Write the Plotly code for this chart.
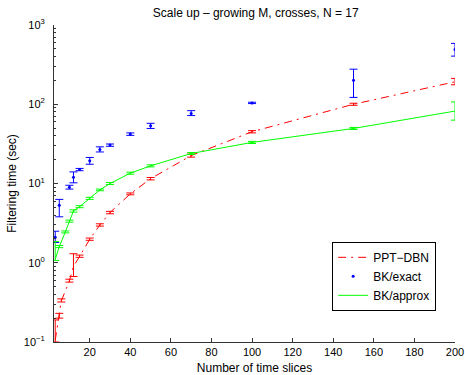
import plotly.graph_objects as go

# ---- data ----
red_x = [3, 5, 6, 10, 12, 15, 20, 25, 30, 40, 50, 70, 100, 150, 200]
red_y = [0.105, 0.21, 0.33, 0.59, 0.9, 1.2, 1.98, 3.0, 4.3, 7.4, 11.5, 22.5, 45, 100, 192]
red_hi = [0.19, 0.23, 0.35, 0.62, 1.3, 1.25, 2.05, 3.1, 4.45, 7.6, 11.9, 23.5, 46.5, 103, 212]
red_lo = [0.1, 0.2, 0.32, 0.57, 0.67, 1.17, 1.92, 2.9, 4.15, 7.2, 11.1, 21.5, 43.5, 97, 176]

blue_x = [3, 5, 10, 12, 15, 20, 25, 30, 40, 50, 70, 100, 150, 200]
blue_y = [2.1, 5.3, 9.0, 12.0, 15.0, 19.3, 26.9, 30.5, 42, 53.4, 76.5, 104, 201, 492]
blue_hi = [2.5, 6.3, 9.5, 14.0, 15.5, 21.3, 29, 31.5, 43.5, 57.5, 83, 106, 277, 586]
blue_lo = [1.8, 3.8, 8.5, 10.2, 14.5, 17.5, 25, 29.5, 40.5, 49.5, 72, 102, 122, 405]

green_x = [3, 5, 8, 10, 12, 15, 20, 25, 30, 40, 50, 70, 100, 150, 200]
green_y = [1.1, 1.6, 2.45, 3.35, 4.5, 5.1, 6.5, 8.3, 10.0, 13.5, 16.7, 23.9, 33, 49.5, 82]
green_hi = [1.85, 1.65, 2.52, 3.45, 4.65, 5.25, 6.7, 8.5, 10.3, 13.9, 17.2, 24.6, 34, 51, 107]
green_lo = [1.07, 1.55, 2.38, 3.25, 4.35, 4.95, 6.3, 8.1, 9.7, 13.1, 16.2, 23.2, 32, 48, 63]

x_ticks = [20, 40, 60, 80, 100, 120, 140, 160, 180, 200]
y_ticks = [0.1, 1, 10, 100, 1000]
y_ticktext = ["10<sup>−1</sup>", "10<sup>0</sup>", "10<sup>1</sup>", "10<sup>2</sup>", "10<sup>3</sup>"]

title_text = "Scale up – growing M, crosses, N = 17"
x_title = "Number of time slices"
y_title = "Filtering time (sec)"


def errs(y, hi, lo):
    return [h - v for v, h in zip(y, hi)], [v - l for v, l in zip(y, lo)]


fig = go.Figure()

rp, rm = errs(red_y, red_hi, red_lo)
fig.add_trace(go.Scatter(
    x=red_x, y=red_y, mode="lines", name="PPT−DBN",
    line=dict(color="#ff0000", width=1, dash="8px,5px,2px,5px"),
    error_y=dict(type="data", array=rp, arrayminus=rm, color="#ff0000", thickness=1, width=4),
))

bp, bm = errs(blue_y, blue_hi, blue_lo)
fig.add_trace(go.Scatter(
    x=blue_x, y=blue_y, mode="markers", name="BK/exact",
    marker=dict(color="#0000ff", size=3),
    error_y=dict(type="data", array=bp, arrayminus=bm, color="#0000ff", thickness=1, width=4),
))

gp, gm = errs(green_y, green_hi, green_lo)
fig.add_trace(go.Scatter(
    x=green_x, y=green_y, mode="lines", name="BK/approx",
    line=dict(color="#00ff00", width=1),
    error_y=dict(type="data", array=gp, arrayminus=gm, color="#00ff00", thickness=1, width=4),
))

minor_vals = [m * 10 ** e for e in range(-1, 3) for m in range(2, 10)]

fig.update_layout(
    width=465, height=375,
    margin=dict(l=54, r=10, t=25, b=33),
    paper_bgcolor="white", plot_bgcolor="white",
    font=dict(family="Liberation Sans, Arial, sans-serif", size=11, color="#000000"),
    title=dict(text=title_text, x=0.55, xanchor="center", y=0.966, yanchor="middle",
               font=dict(size=12)),
    showlegend=True,
    legend=dict(x=0.953, y=0.316, xanchor="right", yanchor="top",
                bordercolor="#000000", borderwidth=1, bgcolor="white",
                font=dict(size=12), tracegroupgap=0),
    xaxis=dict(
        range=[2.4, 200], tickvals=x_ticks, ticks="inside", ticklen=4,
        tickcolor="#333333", showline=True, linecolor="#333333", linewidth=1,
        showgrid=False, zeroline=False, automargin=False,
        title=dict(text=x_title, standoff=8, font=dict(size=12)),
    ),
    yaxis=dict(
        type="log", range=[-1, 3], tickvals=y_ticks, ticktext=y_ticktext,
        ticks="inside", ticklen=4, tickcolor="#333333",
        showline=True, linecolor="#333333", linewidth=1,
        showgrid=False, zeroline=False, ticklabelstandoff=6, automargin=False,
        minor=dict(tickvals=minor_vals, ticks="inside", ticklen=2, tickcolor="#333333", showgrid=False),
        title=dict(text=y_title, standoff=4, font=dict(size=12)),
    ),
)

fig.write_html("out.html")
